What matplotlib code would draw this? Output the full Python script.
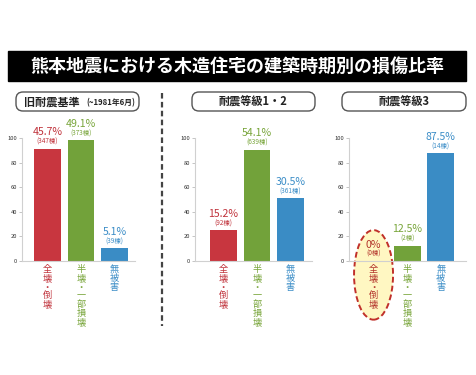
import matplotlib
matplotlib.use("Agg")
import matplotlib.pyplot as plt
from matplotlib.patches import Rectangle, FancyBboxPatch, Ellipse
from matplotlib.transforms import offset_copy

plt.rcParams['font.family'] = ['Noto Sans CJK JP', 'DejaVu Sans']

W, H = 476, 375

title = "熊本地震における木造住宅の建築時期別の損傷比率"
categories = ["全壊・倒壊", "半壊・一部損壊", "無被害"]

# bar heights as drawn
heights_old = [91.3, 98.1, 10.3]
heights_12 = [25.0, 90.5, 51.0]
heights_3 = [0.0, 12.3, 87.5]

pct_old = ["45.7%", "49.1%", "5.1%"]
pct_12 = ["15.2%", "54.1%", "30.5%"]
pct_3 = ["0%", "12.5%", "87.5%"]

cnt_old = ["(347棟)", "(373棟)", "(39棟)"]
cnt_12 = ["(92棟)", "(639棟)", "(361棟)"]
cnt_3 = ["(0棟)", "(2棟)", "(14棟)"]

bar_colors = ["#c8363f", "#72a23a", "#3a8cc5"]
text_colors = ["#c0323b", "#78a53a", "#3b8dc7"]

fig = plt.figure(figsize=(W / 100, H / 100), dpi=100)


def px(x0, y0, x1, y1):
    """pixel box (top-left origin) -> figure fraction rect"""
    return [x0 / W, 1 - y1 / H, (x1 - x0) / W, (y1 - y0) / H]


# title band
fig.patches.append(Rectangle((8 / W, 1 - 81 / H), 458 / W, 30 / H,
                             transform=fig.transFigure, color="black"))
fig.text(237 / W, 1 - 66 / H, title, color="white", fontsize=13.0,
         fontweight="bold", ha="center", va="center")

# header boxes
for x0, x1 in [(16, 139), (192, 315), (342, 466)]:
    fig.patches.append(FancyBboxPatch(
        (x0 / 100, (H - 111) / 100), (x1 - x0) / 100, 0.19,
        boxstyle="round,pad=0,rounding_size=0.07",
        transform=fig.dpi_scale_trans, facecolor="white",
        edgecolor="#555555", linewidth=1.0))

fig.text(24 / W, 1 - 102 / H, "旧耐震基準", fontsize=8, fontweight="bold",
         ha="left", va="center", color="#222222")
fig.text(135 / W, 1 - 102.5 / H, "(~1981年6月)", fontsize=5.6,
         fontweight="bold", ha="right", va="center", color="#222222")
fig.text(253.5 / W, 1 - 102 / H, "耐震等級1・2", fontsize=8,
         fontweight="bold", ha="center", va="center", color="#222222")
fig.text(404 / W, 1 - 102 / H, "耐震等級3", fontsize=8,
         fontweight="bold", ha="center", va="center", color="#222222")

# dashed separator
fig.lines.append(plt.Line2D([162 / W, 162 / W], [1 - 93 / H, 1 - 326 / H],
                            transform=fig.transFigure, color="#444444",
                            linestyle=(0, (2.5, 1.5)), linewidth=1.6))

panels = [
    (px(22, 138, 135, 261), (-0.76, 2.61), heights_old, pct_old, cnt_old),
    (px(195, 138, 312, 261), (-0.85, 2.64), heights_12, pct_12, cnt_12),
    (px(349, 138, 466, 261), (-0.73, 2.75), heights_3, pct_3, cnt_3),
]

for idx, (rect, xlim, heights, pcts, cnts) in enumerate(panels):
    ax = fig.add_axes(rect)
    xs = range(len(categories))
    ax.set_xlim(*xlim)
    ax.set_ylim(0, 100)
    ax.set_yticks([0, 20, 40, 60, 80, 100])
    ax.set_xticks([])
    ax.tick_params(axis="y", labelsize=4.2, length=2, width=0.6,
                   color="#bbbbbb", labelcolor="#333333", pad=1.5)
    for s in ["top", "right"]:
        ax.spines[s].set_visible(False)
    for s in ["left", "bottom"]:
        ax.spines[s].set_color("#d0d0d0")
        ax.spines[s].set_linewidth(0.8)

    if idx == 2:
        ax.add_patch(Ellipse((0, -11.3), 1.16, 72.8, facecolor="#fff7c2",
                             edgecolor="#c0302a", linestyle=(0, (3, 1.6)),
                             linewidth=1.4, clip_on=False, zorder=0.5))

    ax.bar(xs, heights, width=0.8, color=bar_colors, zorder=2)

    for i, h in enumerate(heights):
        col = text_colors[i]
        if idx == 2 and i == 0:
            col = "#b3332b"
        t_pct = offset_copy(ax.transData, fig=fig, x=0, y=16.5 * 0.72,
                            units="points")
        ax.text(i, h, pcts[i], transform=t_pct, ha="center", va="center",
                fontsize=7.6, color=col, clip_on=False)
        t_cnt = offset_copy(ax.transData, fig=fig, x=0, y=7.0 * 0.72,
                            units="points")
        ax.text(i, h, cnts[i], transform=t_cnt, ha="center", va="center",
                fontsize=4.6, color=col, clip_on=False)

        for k, ch in enumerate(categories[i]):
            t_ch = offset_copy(ax.transData, fig=fig, x=0,
                               y=-(8.7 + k * 8.75) * 0.72, units="points")
            ax.text(i, 0, ch, transform=t_ch, ha="center", va="center",
                    fontsize=6.6, color=col, clip_on=False)

fig.savefig("out.png", dpi=100)
